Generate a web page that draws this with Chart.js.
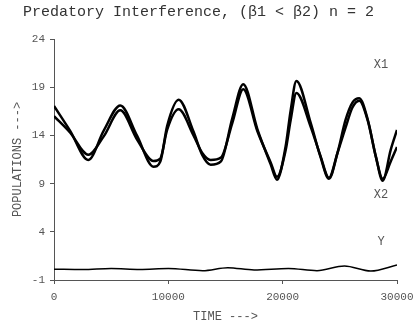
<!DOCTYPE html>
<html>
<head>
<meta charset="utf-8">
<script src="https://cdn.jsdelivr.net/npm/chart.js@4"></script>
<style>
  html, body { margin: 0; padding: 0; background: #fff; }
  #wrap { width: 418px; height: 324px; }
</style>
</head>
<body>
<div id="wrap"><canvas id="grafico" width="418" height="324"></canvas></div>
<script>
// time points (shared by the two prey curves)
const tiempos = [0, 1400, 3000, 4350, 5800, 7250, 8700, 9300, 9900, 10900, 12200, 12950,
  13700, 14600, 15600, 16550, 17800, 18950, 19500, 20250, 20700, 21200, 22450, 23300,
  24050, 24800, 25500, 26100, 26700, 27450, 28150, 28750, 29450, 30000];
const x1 = [17.05, 14.5, 11.45, 14.5, 17.1, 14.0, 10.75, 11.3, 15.0, 17.7, 14.4, 12.0,
  10.95, 11.3, 15.8, 19.3, 14.6, 11.0, 9.4, 12.8, 16.6, 19.65, 15.3, 11.8,
  9.5, 12.2, 15.6, 17.4, 17.85, 15.6, 11.8, 9.3, 12.5, 14.56];
const x2 = [16.0, 14.3, 12.0, 13.9, 16.6, 13.6, 11.35, 11.6, 14.6, 16.7, 14.0, 12.2,
  11.45, 11.7, 15.3, 18.8, 14.4, 11.2, 9.7, 12.4, 15.6, 18.4, 14.9, 11.9,
  9.6, 12.2, 14.8, 16.9, 17.6, 15.5, 11.8, 9.5, 11.3, 12.8];

// predator curve
const tiemposY = [0, 2500, 5000, 7500, 10000, 13000, 15200, 17500, 20500, 23000, 25400, 27700, 30000];
const y = [0.12, 0.08, 0.2, 0.1, 0.2, -0.03, 0.28, 0.04, 0.2, -0.03, 0.45, -0.07, 0.56];

const ticksX = [0, 10000, 20000, 30000];
const ticksY = [-1, 4, 9, 14, 19, 24];

const puntos = (xs, ys) => xs.map((t, i) => ({ x: t, y: ys[i] }));

const fuente = 'Liberation Mono, Courier New, monospace';
const gris = '#555';

// curve names written next to the curves
const etiquetas = {
  id: 'etiquetas',
  afterDatasetsDraw(chart) {
    const { ctx, scales: { x, y } } = chart;
    ctx.save();
    ctx.font = '12px ' + fuente;
    ctx.fillStyle = gris;
    ctx.textAlign = 'center';
    ctx.textBaseline = 'middle';
    ctx.fillText('X1', x.getPixelForValue(28600), y.getPixelForValue(21.3));
    ctx.fillText('X2', x.getPixelForValue(28600), y.getPixelForValue(7.8));
    ctx.fillText('Y', x.getPixelForValue(28600), y.getPixelForValue(2.94));
    ctx.restore();
  }
};

new Chart(document.getElementById('grafico').getContext('2d'), {
  type: 'line',
  data: {
    datasets: [
      { label: 'X1', data: puntos(tiempos, x1), borderColor: '#000', borderWidth: 2.5 },
      { label: 'X2', data: puntos(tiempos, x2), borderColor: '#000', borderWidth: 2.5 },
      { label: 'Y', data: puntos(tiemposY, y), borderColor: '#000', borderWidth: 1.5 },
    ],
  },
  options: {
    responsive: false,
    animation: false,
    devicePixelRatio: 1,
    layout: { padding: { left: 0, right: 21, top: 0, bottom: 0 } },
    elements: {
      point: { radius: 0 },
      line: { cubicInterpolationMode: 'monotone', fill: false },
    },
    plugins: {
      legend: { display: false },
      tooltip: { enabled: false },
      title: {
        display: true,
        text: 'Predatory Interference, (\u03B21 < \u03B22) n = 2',
        color: '#333',
        font: { family: fuente, size: 15, weight: 'normal' },
        padding: { top: 3, bottom: 18 },
      },
    },
    scales: {
      x: {
        type: 'linear',
        min: 0,
        max: 30000,
        afterBuildTicks: (s) => { s.ticks = ticksX.map(v => ({ value: v })); },
        afterFit: (s) => { s.height = 44; s.paddingLeft = 0; s.paddingRight = 0; },
        grid: { drawOnChartArea: false, drawTicks: true, tickLength: 4, color: gris },
        border: { display: true, color: gris, width: 1 },
        ticks: {
          color: gris, font: { family: fuente, size: 11 }, padding: 6, maxRotation: 0,
          callback: (v) => String(v),
        },
        title: {
          display: true, text: 'TIME --->', color: gris,
          font: { family: fuente, size: 12 }, padding: { top: 0, bottom: 0 },
        },
      },
      y: {
        min: -1,
        max: 24,
        afterBuildTicks: (s) => { s.ticks = ticksY.map(v => ({ value: v })); },
        afterFit: (s) => { s.width = 54; },
        grid: { drawOnChartArea: false, drawTicks: true, tickLength: 4, color: gris },
        border: { display: true, color: gris, width: 1 },
        ticks: { color: gris, font: { family: fuente, size: 11 }, padding: 5 },
        title: {
          display: true, text: 'POPULATIONS --->', color: gris,
          font: { family: fuente, size: 12 }, padding: { top: 11, bottom: 0 },
        },
      },
    },
  },
  plugins: [etiquetas],
});
</script>
</body>
</html>
